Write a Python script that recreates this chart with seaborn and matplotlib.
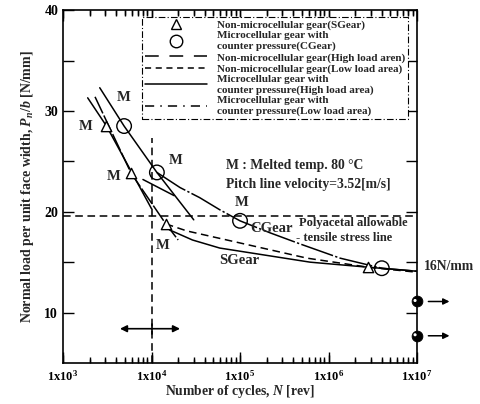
import matplotlib
matplotlib.use("Agg")
import matplotlib.pyplot as plt
import seaborn as sns
import pandas as pd
from matplotlib.lines import Line2D
from matplotlib.ticker import FixedLocator, NullFormatter

# ---- data ----
sgear_pts_N = [3.1e3, 5.9e3, 1.45e4, 2.8e6]
sgear_pts_P = [28.5, 23.8, 18.8, 14.5]
cgear_pts_N = [4.9e3, 1.15e4, 1.0e5, 4.0e6]
cgear_pts_P = [28.5, 23.9, 19.1, 14.4]

s_high_a_N = [1.9e3, 3.1e3, 5.9e3, 1.0e4]
s_high_a_P = [31.3, 28.5, 24.0, 20.3]
s_high_b_N = [2.3e3, 5.9e3, 1.45e4, 2.0e4]
s_high_b_P = [31.4, 23.8, 18.8, 17.2]
s_low_N = [1.45e4, 2.5e4, 7.1e4, 5.7e5, 2.8e6, 1.0e7]
s_low_P = [18.8, 18.1, 17.2, 15.4, 14.5, 14.0]
s_curve_N = [1.45e4, 1.6e4, 2.9e4, 5.9e4, 6.2e5, 2.8e6, 1.0e7]
s_curve_P = [18.6, 18.2, 17.2, 16.4, 15.0, 14.5, 14.1]
c_high_N = [2.6e3, 4.9e3, 1.15e4, 3.0e4]
c_high_P = [32.3, 28.5, 23.9, 19.2]
c_low_N = [1.15e4, 2.1e4, 3.5e4, 5.9e4, 1.0e5, 2.2e5, 4.8e5, 1.35e6, 4.0e6, 1.0e7]
c_low_P = [23.9, 22.4, 21.4, 20.2, 19.1, 17.9, 16.8, 15.4, 14.4, 14.1]
c_short_N = [8.0e3, 1.8e4]
c_short_P = [23.2, 21.6]

allowable_P = 19.6
limit_N = 1.0e4
runout_P = [11.1, 7.7]

m_N = [4.8e3, 1.8e3, 1.85e4, 3.7e3, 1.05e5, 1.35e4]
m_P = [31.3, 28.5, 25.1, 23.5, 20.9, 16.7]

xticks = [1e3, 1e4, 1e5, 1e6, 1e7]
xtick_labels = ["1x10$^3$", "1x10$^4$", "1x10$^5$", "1x10$^6$", "1x10$^7$"]
x_minor = [m * d for d in [1e3, 1e4, 1e5, 1e6] for m in range(2, 10)]
yticks = [10, 20, 30, 40]

sns.set_style("ticks")
plt.rcParams['font.family'] = ['Liberation Serif', 'DejaVu Serif']
plt.rcParams['mathtext.fontset'] = 'custom'
plt.rcParams['mathtext.rm'] = 'Liberation Serif:bold'
plt.rcParams['mathtext.it'] = 'Liberation Serif:italic:bold'
plt.rcParams['mathtext.bf'] = 'Liberation Serif:bold'
plt.rcParams.update({
    'xtick.direction': 'in', 'ytick.direction': 'in',
    'xtick.top': True, 'xtick.bottom': True,
    'ytick.left': True, 'ytick.right': True,
    'xtick.major.size': 8, 'xtick.minor.size': 4.5,
    'ytick.major.size': 8, 'ytick.minor.size': 8,
    'xtick.major.width': 1.0, 'xtick.minor.width': 1.0,
    'ytick.major.width': 1.0, 'ytick.minor.width': 1.0,
    'xtick.color': 'black', 'ytick.color': 'black',
    'xtick.minor.visible': True,
})

fig = plt.figure(figsize=(4.81, 4.04), dpi=100)
ax = fig.add_axes([0.131, 0.1015, 0.736, 0.8735])
ax.set_xscale('log')

lw = 1.1
def line(N, P, ls):
    df = pd.DataFrame({"N": N, "P": P})
    sns.lineplot(data=df, x="N", y="P", ax=ax, color="black", lw=lw,
                 linestyle=ls, sort=False, estimator=None)

line(s_high_a_N, s_high_a_P, '-')
line(s_high_b_N, s_high_b_P, (0, (12, 1.5)))
line(s_low_N, s_low_P, (0, (5, 3)))
line(s_curve_N, s_curve_P, '-')
line(c_high_N, c_high_P, '-')
line(c_low_N, c_low_P, (0, (22, 1.5, 1.5, 1.5)))
line(c_short_N, c_short_P, '-')

sns.scatterplot(x=sgear_pts_N, y=sgear_pts_P, ax=ax, marker='^', s=55,
                facecolor='white', edgecolor='black', linewidth=1.0, zorder=5)
sns.scatterplot(x=cgear_pts_N, y=cgear_pts_P, ax=ax, marker='o', s=110,
                facecolor='none', edgecolor='black', linewidth=1.0, zorder=5)

# reference dashed lines
ax.axhline(allowable_P, color='black', lw=1.1, ls=(0, (5, 3)))
ax.plot([limit_N, limit_N], [5, 27.3], color='black', lw=1.1, ls=(0, (5, 3)))

# double arrow
ax.annotate("", xy=(4.4e3, 8.4), xytext=(limit_N, 8.4),
            arrowprops=dict(arrowstyle='-|>', color='black', lw=1.2, mutation_scale=10,
                            shrinkA=0, shrinkB=0))
ax.annotate("", xy=(2.1e4, 8.4), xytext=(limit_N, 8.4),
            arrowprops=dict(arrowstyle='-|>', color='black', lw=1.2, mutation_scale=10,
                            shrinkA=0, shrinkB=0))
ax.plot([limit_N, limit_N], [7.9, 8.9], color='black', lw=1.2)

# run-out markers
sns.scatterplot(x=[1e7, 1e7], y=runout_P, ax=ax, marker='o', s=60,
                color='black', edgecolor='black', zorder=6, clip_on=False)
sns.scatterplot(x=[0.95e7, 0.95e7], y=[v + 0.1 for v in runout_P], ax=ax, marker='o', s=5,
                color='white', edgecolor='none', zorder=7, clip_on=False)
for p in runout_P:
    ax.annotate("", xy=(2.0e7 * 1.25, p), xytext=(1.25e7, p),
                xycoords='data', annotation_clip=False,
                arrowprops=dict(arrowstyle='-|>', color='black', lw=1.1, mutation_scale=9))

for n, p in zip(m_N, m_P):
    ax.text(n, p, "M", fontsize=10.5, fontweight='bold', ha='center', va='center')

ax.text(7.0e4, 24.6, "M : Melted temp. 80 °C", fontsize=9.8, fontweight='bold', va='center')
ax.text(7.0e4, 22.7, "Pitch line velocity=3.52[m/s]", fontsize=9.8, fontweight='bold', va='center')
ax.text(1.3e5, 18.3, "CGear", fontsize=10.5, fontweight='bold', va='center')
ax.text(5.8e4, 15.2, "SGear", fontsize=10.5, fontweight='bold', va='center')
ax.text(4.6e5, 18.9, "Polyacetal allowable", fontsize=9, fontweight='bold', va='center')
ax.text(4.3e5, 17.4, "- tensile stress line", fontsize=9, fontweight='bold', va='center')
ax.text(1.2e7, 14.6, "16N/mm", fontsize=9.8, fontweight='bold', va='center', clip_on=False)

ax.set_xlim(1e3, 1e7)
ax.set_ylim(5, 40)
ax.xaxis.set_major_locator(FixedLocator(xticks))
ax.xaxis.set_ticklabels(xtick_labels, fontsize=9, fontweight='bold')
ax.xaxis.set_minor_locator(FixedLocator(x_minor))
ax.xaxis.set_minor_formatter(NullFormatter())
ax.yaxis.set_major_locator(FixedLocator(yticks))
ax.yaxis.set_ticklabels([str(v) for v in yticks], fontsize=10, fontweight='bold')
ax.yaxis.set_minor_locator(FixedLocator([15, 25, 35]))
ax.yaxis.set_minor_formatter(NullFormatter())
ax.tick_params(axis='x', which='major', pad=4)
for tl in ax.xaxis.get_ticklines() + ax.xaxis.get_ticklines(minor=True):
    tl.set_visible(True)
    tl.set_color('black')
    tl.set_zorder(10)

# axis tick marks along the x spines (drawn in axes-fraction height, at the tick values)
xt = ax.get_xaxis_transform()
ax.vlines(xticks, 0, 0.0227, transform=xt, color='black', lw=1.0, zorder=10)
ax.vlines(xticks, 1 - 0.0227, 1, transform=xt, color='black', lw=1.0, zorder=10)
ax.vlines(x_minor, 0, 0.0127, transform=xt, color='black', lw=1.0, zorder=10)
ax.vlines(x_minor, 1 - 0.0127, 1, transform=xt, color='black', lw=1.0, zorder=10)

for s in ax.spines.values():
    s.set_color('black')
    s.set_linewidth(1.2)

ax.set_xlabel("Number of cycles, $N$ [rev]", fontsize=9.8, fontweight='bold', labelpad=0)
ax.set_ylabel("Normal load per unit face width, $P_n/b$ [N/mm]", fontsize=10, fontweight='bold', labelpad=6)

handles = [
    Line2D([], [], marker='^', ls='none', mfc='white', mec='black', ms=7),
    Line2D([], [], marker='o', ls='none', mfc='white', mec='black', ms=9),
    Line2D([], [], color='black', lw=lw, ls=(0, (9, 7))),
    Line2D([], [], color='black', lw=lw, ls=(0, (4, 3))),
    Line2D([], [], color='black', lw=lw, ls='-'),
    Line2D([], [], color='black', lw=lw, ls=(0, (6, 4, 1, 4))),
]
labels = [
    "Non-microcellular gear(SGear)",
    "Microcellular gear with\ncounter pressure(CGear)",
    "Non-microcellular gear(High load aren)",
    "Non-microcellular gear(Low load area)",
    "Microcellular gear with\ncounter pressure(High load area)",
    "Microcellular gear with\ncounter pressure(Low load area)",
]
leg = ax.legend(handles, labels, loc='upper right', bbox_to_anchor=(0.99, 0.995),
                handlelength=5.6, labelspacing=0.1, borderpad=0.25,
                handletextpad=0.9, fancybox=False, framealpha=1,
                prop={'weight': 'bold', 'size': 8.0})
leg.get_frame().set_edgecolor('black')
leg.get_frame().set_linewidth(0.8)
leg.get_frame().set_linestyle((0, (6, 2, 1, 2)))
leg.set_zorder(20)

fig.savefig("out.png", dpi=100)
